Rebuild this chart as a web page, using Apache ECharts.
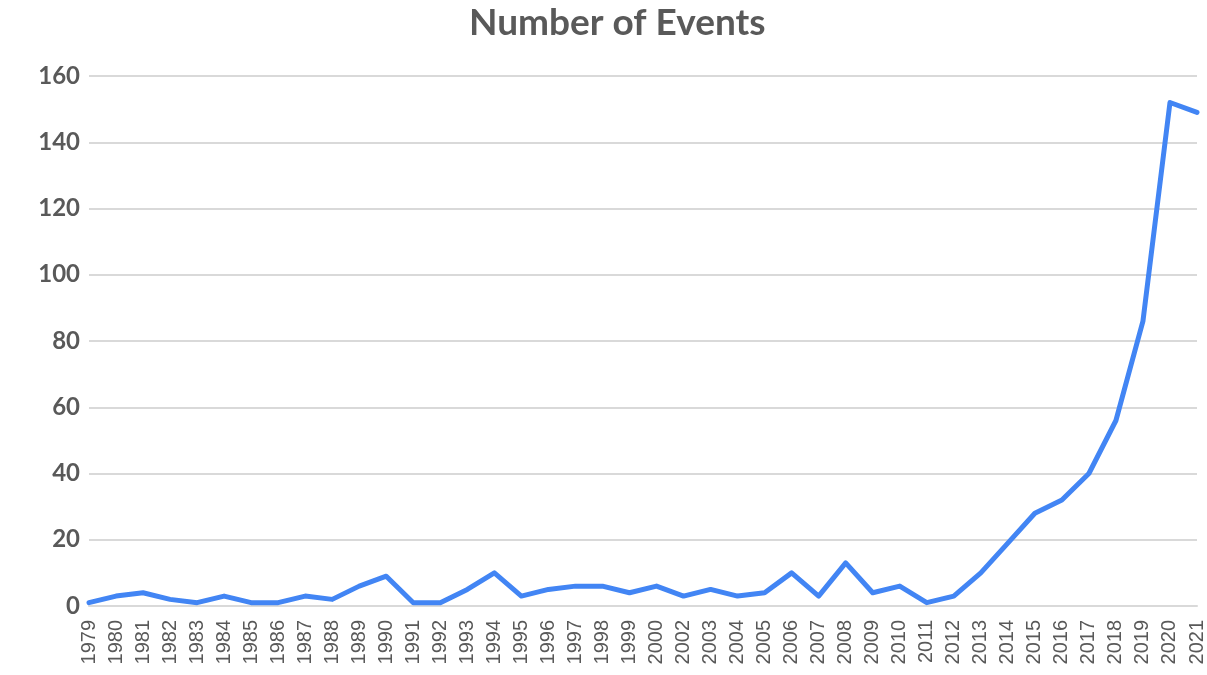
<!DOCTYPE html>
<html>
<head>
<meta charset="utf-8">
<script src="https://cdn.jsdelivr.net/npm/echarts@6/dist/echarts.min.js"></script>
<style>
  html, body { margin: 0; padding: 0; background: #fff; }
  #chart { width: 1207px; height: 675px; }
</style>
</head>
<body>
<div id="chart"></div>
<script>
// years (note: 2001 is not in the source data)
var years = ['1979', '1980', '1981', '1982', '1983', '1984', '1985', '1986', '1987', '1988',
  '1989', '1990', '1991', '1992', '1993', '1994', '1995', '1996', '1997', '1998',
  '1999', '2000', '2002', '2003', '2004', '2005', '2006', '2007', '2008', '2009',
  '2010', '2011', '2012', '2013', '2014', '2015', '2016', '2017', '2018', '2019',
  '2020', '2021'];

var events = [1, 3, 4, 2, 1, 3, 1, 1, 3, 2,
  6, 9, 1, 1, 5, 10, 3, 5, 6, 6,
  4, 6, 3, 5, 3, 4, 10, 3, 13, 4,
  6, 1, 3, 10, 19, 28, 32, 40, 56, 86,
  152, 149];

var chart = echarts.init(document.getElementById('chart'));

chart.setOption({
  backgroundColor: '#fff',
  animation: false,
  title: {
    text: 'Number of Events',
    left: 464,
    top: 0,
    textStyle: {
      fontFamily: 'Lato',
      fontWeight: 'bold',
      fontSize: 37,
      color: '#595959'
    }
  },
  grid: {
    left: 89,
    right: 9,
    top: 76,
    bottom: 69
  },
  xAxis: {
    type: 'category',
    data: years,
    boundaryGap: false,
    axisLine: { lineStyle: { color: '#d9d9d9', width: 2 } },
    axisTick: { show: false },
    axisLabel: {
      rotate: 90,
      interval: 0,
      margin: 14,
      fontFamily: 'Liberation Sans',
      fontSize: 20,
      color: '#595959'
    }
  },
  yAxis: {
    type: 'value',
    min: 0,
    max: 160,
    interval: 20,
    axisLine: { show: false },
    axisTick: { show: false },
    splitLine: { lineStyle: { color: '#d9d9d9', width: 2 } },
    axisLabel: {
      margin: 9,
      fontFamily: 'Lato',
      fontWeight: 'bold',
      fontSize: 24,
      color: '#595959'
    }
  },
  series: [{
    type: 'line',
    data: events,
    symbol: 'none',
    lineStyle: { color: '#4285f4', width: 5, cap: 'round', join: 'round' }
  }]
});
</script>
</body>
</html>
